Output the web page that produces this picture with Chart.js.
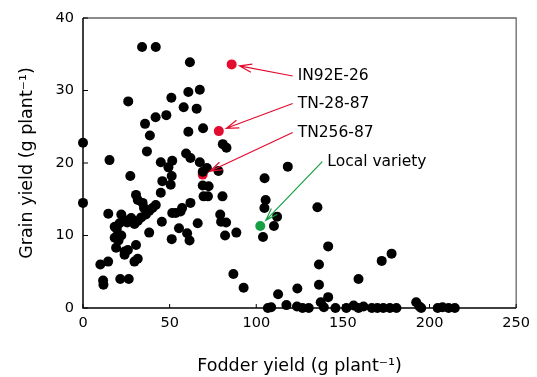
<!DOCTYPE html>
<html>
<head>
<meta charset="utf-8">
<script src="https://cdn.jsdelivr.net/npm/chart.js@4.4.1/dist/chart.umd.min.js"></script>
<style>
  html, body { margin: 0; padding: 0; background: #fff; }
  #wrap { width: 537px; height: 377px; position: relative; }
</style>
</head>
<body>
<div id="wrap"><canvas id="c"></canvas></div>
<script>
// fodder yield (x) and grain yield (y), g plant-1, one entry per genotype
const fodder = [
  0, 0, 15.3, 14.6, 10, 14.5, 11.6, 11.8, 21.5, 26.4,
  18.3, 22.1, 23.4, 21.1, 19.5, 27.8, 25.5, 18.3, 22.1, 20.5,
  19.1, 24, 25.9, 24, 30.6, 29.7, 31.6, 27.3, 26.1, 30.6,
  31.6, 34.4, 42, 40.1, 38.2, 36.3, 33.6, 31.6, 29.7, 35.2,
  38.2, 44.9, 50.6, 45.8, 51.2, 45.5, 51.2, 51.5, 53.5, 56.3,
  57.2, 62, 55.4, 60.1, 61.5, 66.2, 69.1, 72.5, 69.6, 72.1,
  80.5, 79.2, 79.7, 82.6, 82, 88.5, 86.8, 92.7, 36.9, 38.6,
  35.8, 34.1, 42, 41.9, 48.1, 51, 58.1, 65.6, 60.8, 67.4,
  61.7, 60.8, 69.3, 80.7, 82.8, 44.9, 51.5, 49.3, 59.5, 62,
  67.4, 71.5, 69.1, 78.2, 104.8, 118.2, 105.4, 104.7, 135.3, 112,
  110.2, 103.9, 141.5, 136.2, 136.2, 141.5, 137.2, 139, 112.6, 117.4,
  123.7, 123.5, 126.7, 130.3, 106.7, 108.6, 145.7, 152, 156.2, 159,
  161.9, 166.7, 169.9, 173.3, 177.1, 180.9, 159, 172.4, 178.1, 192.3,
  194.2, 195.2, 204.7, 207.5, 211, 214.6
];
const grain = [
  22.8, 14.5, 20.4, 13.0, 6.0, 6.4, 3.8, 3.2, 4.0, 4.0,
  11.2, 12.9, 12.2, 11.7, 10.9, 12.4, 11.8, 9.7, 10.0, 9.3,
  8.3, 7.8, 8.0, 7.35, 8.7, 6.4, 6.8, 18.2, 28.5, 15.6,
  14.9, 14.5, 14.2, 13.8, 13.4, 12.9, 12.5, 12.0, 11.6, 13.8,
  10.4, 15.9, 17.0, 17.5, 18.2, 11.9, 9.5, 13.1, 13.1, 13.3,
  13.8, 14.5, 11.0, 10.3, 9.3, 11.7, 16.9, 16.8, 15.4, 15.4,
  15.4, 12.9, 11.9, 11.8, 10.0, 10.4, 4.7, 2.8, 21.6, 23.8,
  25.4, 36, 36, 26.3, 26.6, 29.0, 27.7, 27.5, 29.8, 30.1,
  33.9, 24.3, 24.8, 22.6, 22.1, 20.1, 20.3, 19.4, 21.3, 20.7,
  20.1, 19.3, 18.8, 18.9, 17.9, 19.5, 14.9, 13.8, 13.9, 12.6,
  11.3, 9.8, 8.5, 6.0, 3.2, 1.5, 0.8, 0.1, 1.9, 0.4,
  2.7, 0.2, 0, 0, 0, 0.1, 0, 0, 0.35, 0,
  0.2, 0, 0, 0, 0, 0, 4.0, 6.5, 7.5, 0.8,
  0.2, 0, 0, 0.1, 0, 0
];

// highlighted genotypes
const hlNames  = ['IN92E-26', 'TN-28-87', 'TN256-87', 'Local variety'];
const hlFodder = [85.8, 78.4, 69.1, 102.3];
const hlGrain  = [33.6, 24.4, 18.4, 11.3];
const hlColors = ['#e30b2e', '#e30b2e', '#e30b2e', '#17a043'];

const xTicks = [0, 50, 100, 150, 200, 250];
const yTicks = [0, 10, 20, 30, 40];

// where each label text sits (data units)
const LABEL_AT = [[123.9, 32.0], [123.9, 28.2], [123.9, 24.2], [141.0, 20.2]];

const FONT = "'DejaVu Sans', Verdana, sans-serif";

const framePlugin = {
  id: 'frame',
  beforeDatasetsDraw(chart) {
    const { ctx, chartArea: a, scales: { x, y } } = chart;
    ctx.save();
    ctx.strokeStyle = '#666';
    ctx.lineWidth = 1.3;
    ctx.beginPath();
    ctx.moveTo(a.left, a.top); ctx.lineTo(a.right, a.top); ctx.lineTo(a.right, a.bottom);
    ctx.stroke();
    ctx.strokeStyle = '#000';
    ctx.lineWidth = 1.5;
    ctx.beginPath();
    ctx.moveTo(a.left, a.top); ctx.lineTo(a.left, a.bottom); ctx.lineTo(a.right, a.bottom);
    ctx.stroke();
    // inward tick marks
    ctx.lineWidth = 1;
    ctx.beginPath();
    xTicks.forEach(v => { const px = x.getPixelForValue(v); ctx.moveTo(px, a.bottom); ctx.lineTo(px, a.bottom - 4); });
    yTicks.forEach(v => { const py = y.getPixelForValue(v); ctx.moveTo(a.left, py); ctx.lineTo(a.left + 5, py); });
    ctx.stroke();
    ctx.restore();
  }
};

const arrowPlugin = {
  id: 'arrows',
  afterDatasetsDraw(chart) {
    const { ctx, scales: { x, y } } = chart;
    ctx.save();
    ctx.font = '15.5px ' + FONT;
    ctx.textBaseline = 'middle';
    ctx.fillStyle = '#000';
    hlNames.forEach((name, i) => {
      const tx = x.getPixelForValue(LABEL_AT[i][0]), ty = y.getPixelForValue(LABEL_AT[i][1]);
      const px = x.getPixelForValue(hlFodder[i]), py = y.getPixelForValue(hlGrain[i]);
      const sx = tx - 5, sy = ty;
      const dx = sx - px, dy = sy - py, len = Math.hypot(dx, dy);
      const ex = px + dx / len * 8, ey = py + dy / len * 8;
      const ang = Math.atan2(dy, dx);
      ctx.strokeStyle = hlColors[i];
      ctx.lineWidth = 1.2;
      ctx.beginPath();
      ctx.moveTo(sx, sy); ctx.lineTo(ex, ey);
      ctx.moveTo(ex + 13 * Math.cos(ang + 0.32), ey + 13 * Math.sin(ang + 0.32));
      ctx.lineTo(ex, ey);
      ctx.lineTo(ex + 13 * Math.cos(ang - 0.32), ey + 13 * Math.sin(ang - 0.32));
      ctx.stroke();
      ctx.fillText(name, tx, ty);
    });
    ctx.restore();
  }
};

new Chart(document.getElementById('c'), {
  type: 'scatter',
  plugins: [framePlugin, arrowPlugin],
  data: {
    datasets: [
      {
        data: fodder.map((v, i) => ({ x: v, y: grain[i] })),
        backgroundColor: '#000', borderColor: '#000', borderWidth: 0,
        pointRadius: 5, pointHoverRadius: 5, clip: false
      },
      {
        data: hlFodder.map((v, i) => ({ x: v, y: hlGrain[i] })),
        backgroundColor: hlColors, borderColor: hlColors, borderWidth: 0,
        pointRadius: 5, pointHoverRadius: 5, clip: false
      }
    ]
  },
  options: {
    responsive: true, maintainAspectRatio: false, animation: false,
    events: [],
    layout: { padding: { left: 0, top: 18, right: 16, bottom: 0 } },
    plugins: { legend: { display: false }, tooltip: { enabled: false } },
    scales: {
      x: {
        type: 'linear', min: 0, max: 250,
        afterBuildTicks: s => { s.ticks = xTicks.map(v => ({ value: v })); },
        afterFit: s => { s.height = 69; },
        grid: { display: false, drawTicks: false },
        border: { display: false },
        ticks: { color: '#000', padding: 7, font: { family: FONT, size: 14.5 } },
        title: { display: true, text: 'Fodder yield (g plant⁻¹)', color: '#000',
                 font: { family: FONT, size: 17.5 }, padding: { top: 0, bottom: 0 } }
      },
      y: {
        type: 'linear', min: 0, max: 40,
        afterBuildTicks: s => { s.ticks = yTicks.map(v => ({ value: v })); },
        afterFit: s => { s.width = 83; },
        grid: { display: false, drawTicks: false },
        border: { display: false },
        ticks: { color: '#000', padding: 9, font: { family: FONT, size: 14.5 } },
        title: { display: true, text: 'Grain yield (g plant⁻¹)', color: '#000',
                 font: { family: FONT, size: 17.5 }, padding: { top: 17, bottom: 0 } }
      }
    }
  }
});
</script>
</body>
</html>
